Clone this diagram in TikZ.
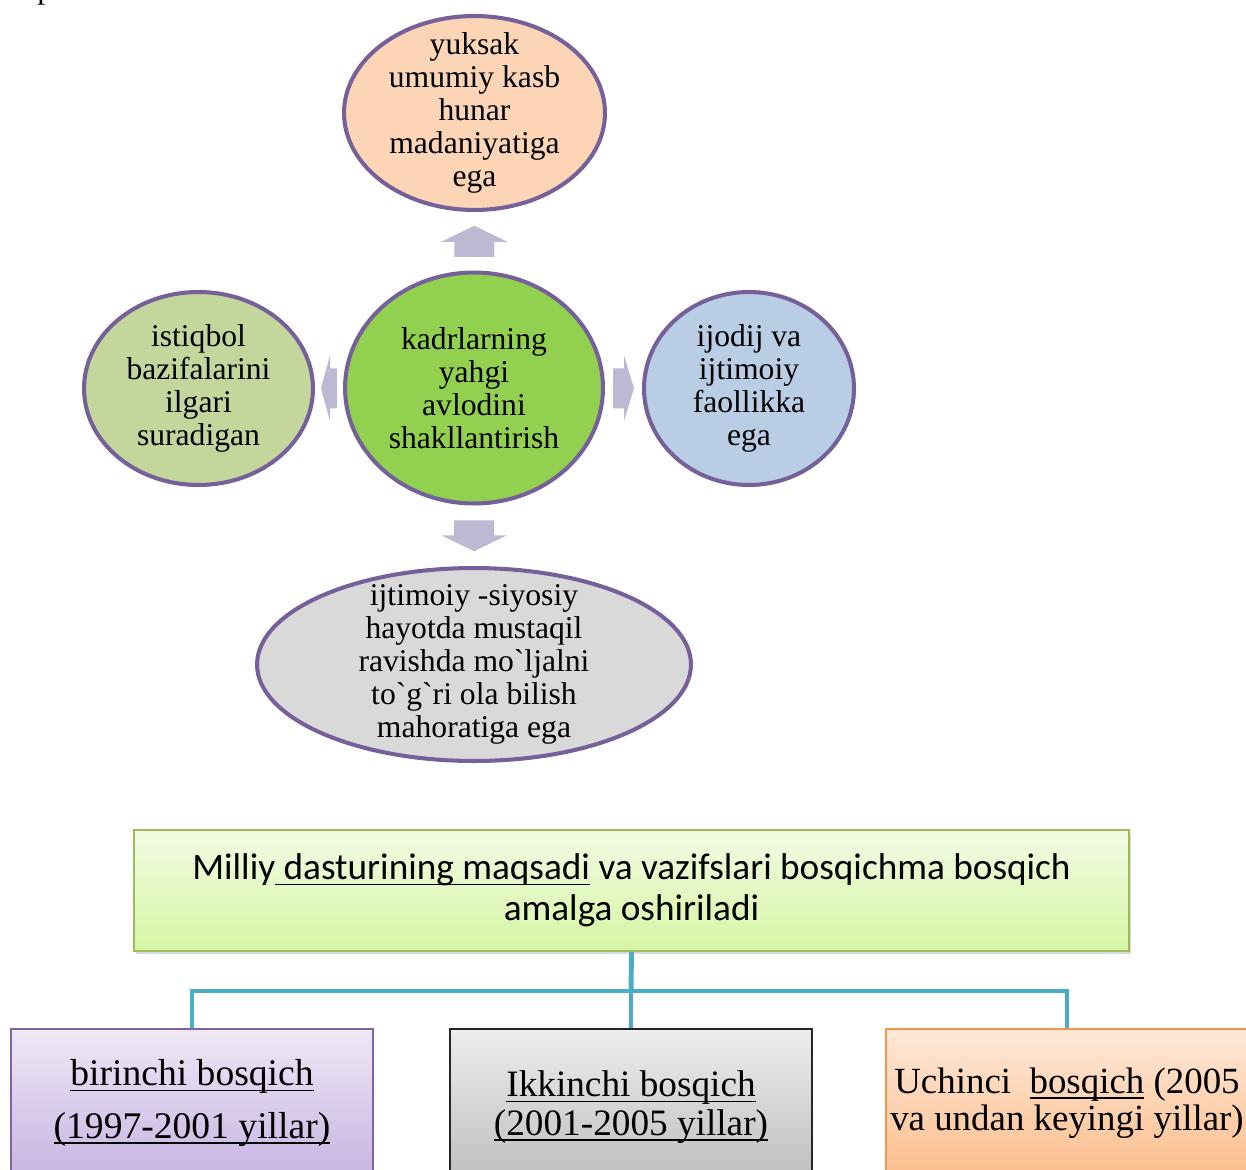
\documentclass[tikz,border=0pt]{standalone}
\usepackage{fontspec}
\setmainfont{Liberation Serif}
\newfontfamily\tnrfont{Liberation Serif}
\newfontfamily\calfont{Carlito}
\usetikzlibrary{shapes.geometric,calc,shadows}

\newsavebox\undlbox
\newcommand\undl[1]{\leavevmode\sbox\undlbox{#1}\rlap{\usebox\undlbox}\rule[-3.2pt]{\wd\undlbox}{0.9pt}}

\definecolor{rim}{RGB}{118,96,154}
\definecolor{peach}{RGB}{251,213,181}
\definecolor{leaf}{RGB}{146,208,80}
\definecolor{olive}{RGB}{195,214,155}
\definecolor{sky}{RGB}{185,205,229}
\definecolor{ash}{RGB}{217,217,217}
\definecolor{blockarr}{RGB}{191,184,210}
\definecolor{linkblue}{RGB}{75,172,198}
\definecolor{goalrim}{RGB}{155,187,89}
\definecolor{goaltop}{RGB}{242,251,228}
\definecolor{goalbot}{RGB}{214,245,163}
\definecolor{lavrim}{RGB}{128,100,162}
\definecolor{lavtop}{RGB}{238,232,246}
\definecolor{lavbot}{RGB}{200,180,226}
\definecolor{orarim}{RGB}{247,150,70}
\definecolor{oratop}{RGB}{254,232,216}
\definecolor{orabot}{RGB}{251,190,140}

\tikzset{
	ell/.style={ellipse, draw=rim, line width=2.3pt, inner sep=0pt},
	etxt/.style={align=center, inner sep=0pt, font=\tnrfont\fontsize{18}{18.7}\selectfont},
	stage/.style={rectangle, anchor=north, minimum width=7.24cm, line width=1.1pt, align=center, inner sep=0pt},
	conn/.style={draw=linkblue, line width=2.8pt},
	pics/blk/.style 2 args={code={
		\fill[blockarr] (-#1/2,-20) -- (#1/2-#2,-20) -- (#1/2-#2,-33) -- (#1/2,0) -- (#1/2-#2,33) -- (#1/2-#2,20) -- (-#1/2,20) -- cycle;
	}}
}

\begin{document}
\begin{tikzpicture}[x=0.02cm, y=-0.02cm]
	\useasboundingbox (0,0) rectangle (1246,1169);
	% cut off letter from the page above
	\node[anchor=base west, inner sep=0pt, font=\tnrfont\fontsize{18}{18.7}\selectfont] (cut) at (37,-1) {p};

	% ellipses
	\node[ell, fill=peach, minimum width=5.22cm, minimum height=3.88cm] (top) at (474.5,113) {};
	\node[etxt] (top-t) at (top) {yuksak\\umumiy kasb\\hunar\\madaniyatiga\\ega};
	\node[ell, fill=leaf, minimum width=5.16cm, minimum height=4.62cm] (mid) at (474,388) {};
	\node[etxt] (mid-t) at (mid) {kadrlarning\\yahgi\\avlodini\\shakllantirish};
	\node[ell, fill=olive, minimum width=4.58cm, minimum height=3.86cm] (left) at (198.5,388.5) {};
	\node[etxt] (left-t) at (left) {istiqbol\\bazifalarini\\ilgari\\suradigan};
	\node[ell, fill=sky, minimum width=4.2cm, minimum height=3.86cm] (right) at (749,388.5) {};
	\node[etxt] (right-t) at (right) {ijodij va\\ijtimoiy\\faollikka\\ega};
	\node[ell, fill=ash, minimum width=8.68cm, minimum height=3.86cm] (bot) at (474,664.5) {};
	\node[etxt] (bot-t) at (bot) {ijtimoiy -siyosiy\\hayotda mustaqil\\ravishda mo`ljalni\\to`g`ri ola bilish\\mahoratiga ega};

	% block arrows
	\pic[rotate=90] at ($(mid.north)!.5!(top.south)$) {blk={31}{16}};
	\pic[rotate=-90] at ($(mid.south)!.5!(bot.north)$) {blk={31}{16}};
	\pic at ($(mid.east)!.5!(right.west)$) {blk={21}{10}};
	\pic[rotate=180] at ($(mid.west)!.5!(left.east)$) {blk={16}{9}};

	% stages
	\node[rectangle, draw=goalrim, line width=1.1pt, top color=goaltop, bottom color=goalbot,
		drop shadow={shadow xshift=0.04cm, shadow yshift=-0.06cm, opacity=0.3},
		minimum width=19.92cm, minimum height=2.42cm, align=center, font=\calfont\fontsize{21.2}{23.2}\selectfont] (goal) at (631.5,890.5)
		{Milliy\undl{\ dasturining maqsadi} va vazifslari bosqichma bosqich\\amalga oshiriladi};

	\node[stage, draw=lavrim, top color=lavtop, bottom color=lavbot, minimum height=2.96cm, font=\tnrfont\fontsize{21.4}{30}\selectfont] (s1) at (192,1028)
		{\undl{birinchi bosqich}\\\undl{(1997-2001 yillar)}};
	\node[stage, draw=black!85, top color=black!7, bottom color=black!26, minimum height=3.12cm, font=\tnrfont\fontsize{21.2}{22}\selectfont] (s2) at (631,1028)
		{\undl{Ikkinchi bosqich}\\\undl{(2001-2005 yillar)}};
	\node[stage, draw=orarim, top color=oratop, bottom color=orabot, minimum height=2.96cm, font=\tnrfont\fontsize{21}{21}\selectfont] (s3) at (1067,1028)
		{Uchinci\ \ \undl{bosqich} (2005\\va undan keyingi yillar)};

	% tree lines
	\coordinate (fork) at (631,991);
	\draw[conn] (goal.south) -- (fork);
	\draw[conn] (s1.north) |- (fork) -| (s3.north);
	\draw[conn] (fork) -- (s2.north);
\end{tikzpicture}
\end{document}
